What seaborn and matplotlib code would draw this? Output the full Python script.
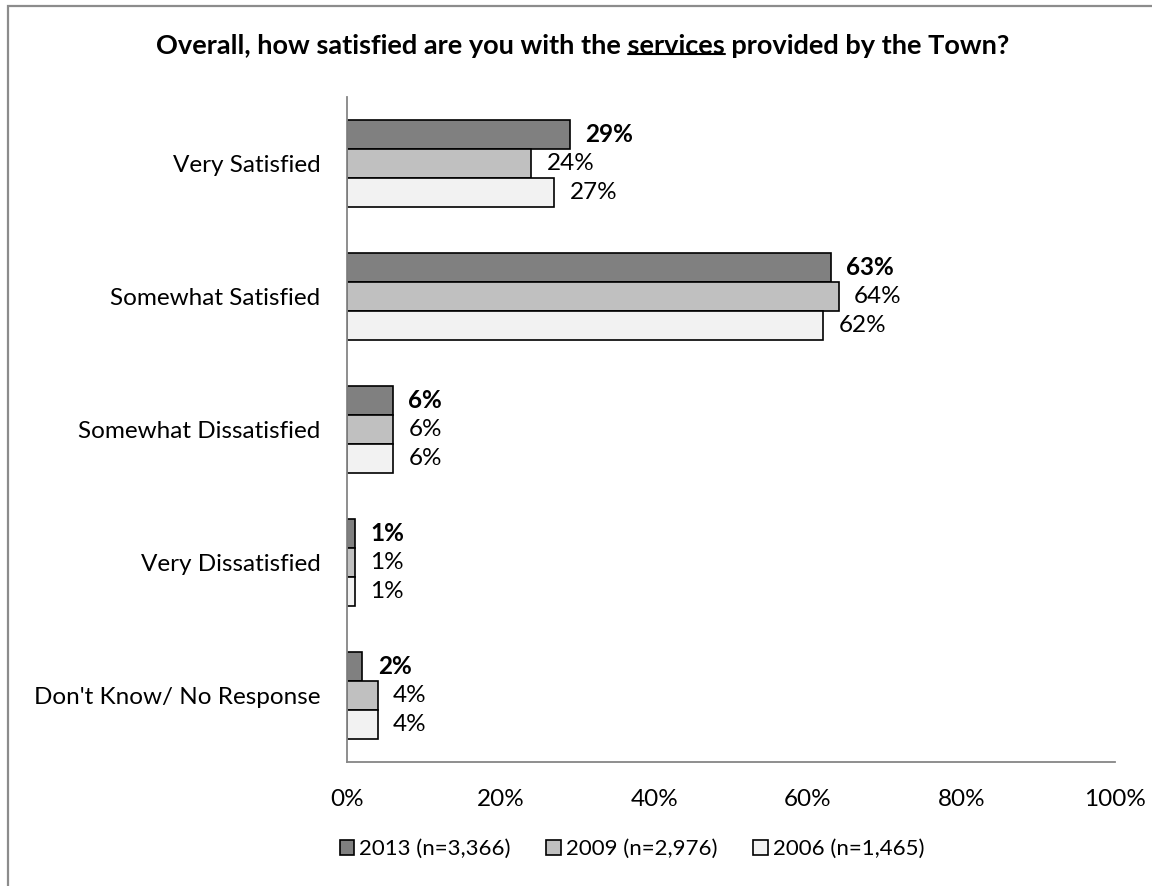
import matplotlib
matplotlib.use("Agg")
import matplotlib.pyplot as plt
from matplotlib.patches import Rectangle, Patch
from matplotlib.lines import Line2D
import pandas as pd
import seaborn as sns

categories = ["Very Satisfied", "Somewhat Satisfied", "Somewhat Dissatisfied",
              "Very Dissatisfied", "Don't Know/ No Response"]
years = ["2013 (n=3,366)", "2009 (n=2,976)", "2006 (n=1,465)"]
pct_2013 = [29, 63, 6, 1, 2]
pct_2009 = [24, 64, 6, 1, 4]
pct_2006 = [27, 62, 6, 1, 4]
colors = ["#808080", "#c0c0c0", "#f2f2f2"]
x_ticks = [0, 20, 40, 60, 80, 100]

rows = []
for year, vals in zip(years, [pct_2013, pct_2009, pct_2006]):
    for cat, v in zip(categories, vals):
        rows.append({"category": cat, "year": year, "pct": v})
df = pd.DataFrame(rows)

sns.set_style("white", {"text.color": "black", "axes.labelcolor": "black"})
plt.rcParams["font.family"] = ["Lato", "DejaVu Sans"]

W, H = 1152, 886
fig = plt.figure(figsize=(W / 100, H / 100), dpi=100)
ax = fig.add_axes([347 / W, 1 - 762 / H, (1115 - 347) / W, (762 - 97) / H])

sns.barplot(data=df, y="category", x="pct", hue="year", order=categories,
            hue_order=years, palette=colors, orient="h", width=0.66,
            edgecolor="black", linewidth=1.2, ax=ax, legend=False)

fs = 17.5
for i, cont in enumerate(ax.containers):
    ax.bar_label(cont, labels=[f"{v:.0f}%" for v in cont.datavalues],
                 padding=11, fontsize=fs, color="black",
                 fontweight="bold" if i == 0 else "normal")

ax.set_xlim(0, 100)
ax.set_ylim(len(categories) - 0.5, -0.5)
ax.set_xticks(x_ticks)
ax.set_xticklabels([f"{t}%" for t in x_ticks], fontsize=fs)
ax.set_yticks(range(len(categories)))
ax.set_yticklabels(categories, fontsize=fs)
ax.set_yticks([i - 0.5 for i in range(len(categories) + 1)], minor=True)
ax.tick_params(axis="y", which="major", length=0, pad=19, labelcolor="black")
ax.tick_params(axis="y", which="minor", length=4.5, width=1.1, color="#868686", direction="out")
ax.tick_params(axis="x", which="major", length=4.5, width=1.1, color="#868686",
               direction="out", pad=15, labelcolor="black")
ax.set_xlabel("")
ax.set_ylabel("")
for s in ["top", "right"]:
    ax.spines[s].set_visible(False)
for s in ["left", "bottom"]:
    ax.spines[s].set_color("#868686")
    ax.spines[s].set_linewidth(1.3)

handles = [Patch(facecolor=c, edgecolor="black", linewidth=1.2) for c in colors]
fig.legend(handles, years, loc="center", bbox_to_anchor=(632 / W, 1 - 849 / H),
           ncol=3, frameon=False, fontsize=16, handlelength=0.65, handleheight=0.65,
           handletextpad=0.23, columnspacing=1.6, labelcolor="black")

# title with underlined word
tfs = 19.5
title_y = 1 - 46 / H
pre = "Overall, how satisfied are you with the "
word = "services"
post = " provided by the Town?"
t = fig.text(583 / W, title_y, pre + word + post, ha="center", va="center",
             fontsize=tfs, fontweight="bold", color="black")
fig.canvas.draw()
r = fig.canvas.get_renderer()
full = t.get_window_extent(r)
tmp = fig.text(0, 0, pre + word, fontsize=tfs, fontweight="bold")
w_pw = tmp.get_window_extent(r).width
tmp.remove()
tmp = fig.text(0, 0, word, fontsize=tfs, fontweight="bold")
w_w = tmp.get_window_extent(r).width
tmp.remove()
x0 = full.x0 + w_pw - w_w
x1 = full.x0 + w_pw
yl = full.y0 + 4
fig.add_artist(Line2D([x0 / W, x1 / W], [yl / H, yl / H], color="black", linewidth=1.5))

# outer frame
fig.add_artist(Rectangle((8 / W, -0.2), 2, 1.2 - 6 / H, fill=False,
                         edgecolor="#8c8c8c", linewidth=1.6))

fig.savefig("out.png", dpi=100)
